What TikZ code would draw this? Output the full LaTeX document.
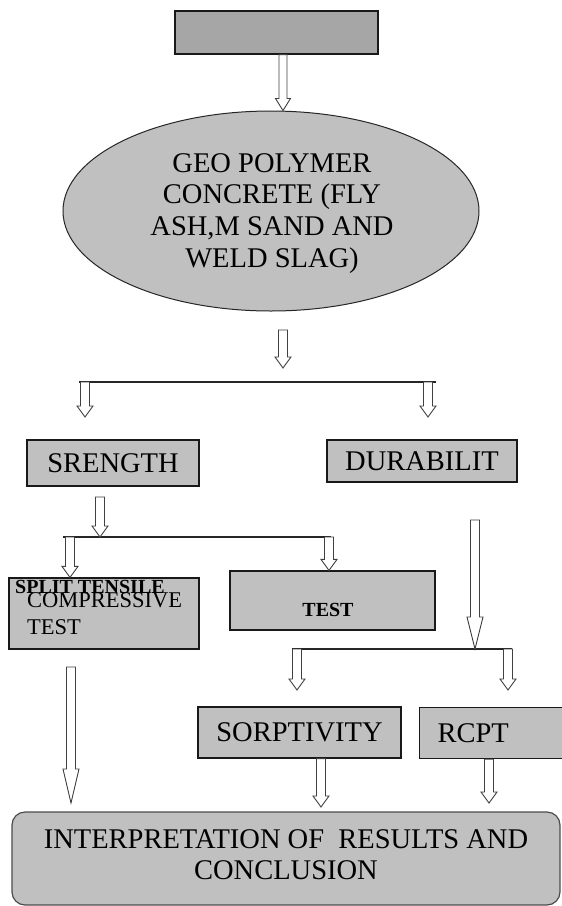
\documentclass[tikz,border=0pt]{standalone}
\usepackage{fontspec}
\setmainfont{Liberation Serif}
\usetikzlibrary{calc,shapes.geometric}
\definecolor{boxgray}{HTML}{C0C0C0}
\definecolor{topgray}{HTML}{A6A6A6}
\tikzset{
  boxnode/.style={draw=black!90, line width=1.2pt, fill=boxgray, rectangle, inner sep=0pt},
  big/.style={font=\fontsize{28.5}{31.7}\selectfont},
  txt/.style={inner sep=0pt, anchor=base},
  hollow/.style={draw=black!75, line width=0.9pt, fill=white, line join=miter},
  splitline/.style={draw=black!85, line width=1.1pt},
}
% vertical hollow block arrow: start, end, half shaft, half head, head length
\newcommand\varrow[5]{%
  \path[hollow] let \p1=(#1), \p2=(#2) in
    (\x1-#3,\y1) -- (\x1-#3,\y2+#5) -- (\x1-#4,\y2+#5) -- (\x1,\y2)
    -- (\x1+#4,\y2+#5) -- (\x1+#3,\y2+#5) -- (\x1+#3,\y1) -- cycle;}
\begin{document}
\begin{tikzpicture}[x=1pt,y=1pt]
\useasboundingbox (0,0) rectangle (562,-906);

% boxes
\node[boxnode, fill=topgray, minimum width=203, minimum height=43] (top) at (276.5,-32.5) {};
\node[draw=black!85, line width=1pt, fill=boxgray, ellipse, inner sep=0pt,
      minimum width=416, minimum height=200] (ell) at (271,-211) {};
\node[txt, big] (e1) at (272,-172) {GEO POLYMER};
\node[txt, big] (e2) at (272,-203.7) {CONCRETE (FLY};
\node[txt, big] (e3) at (272,-235.4) {ASH,M SAND AND};
\node[txt, big] (e4) at (272,-267.1) {WELD SLAG)};

\node[boxnode, big, minimum width=172, minimum height=46] (str) at (113,-463) {SRENGTH};
\node[boxnode, big, minimum width=190, minimum height=42] (dur) at (422,-461) {DURABILIT};

\node[boxnode, minimum width=190, minimum height=71] (comp) at (104,-613.5) {};
\node[txt, anchor=base west, font=\fontsize{20}{22}\bfseries] (split) at (15,-593) {SPLIT TENSILE};
\node[txt, anchor=base west, font=\fontsize{22.5}{25}\selectfont] (compt) at (27,-607) {COMPRESSIVE};
\node[txt, anchor=base west, font=\fontsize{22.5}{25}\selectfont] (compt2) at (27,-634) {TEST};

\node[boxnode, minimum width=205, minimum height=59] (test) at (332.5,-600.5) {};
\node[txt, font=\fontsize{20}{22}\bfseries] (testt) at (328,-616) {TEST};

\node[boxnode, big, minimum width=203, minimum height=51] (sorp) at (299.5,-732.5) {SORPTIVITY};
\node[boxnode, big, anchor=north west, minimum width=166, minimum height=51,
      text width=130, inner xsep=18, align=left] (rcpt) at (419,-707) {RCPT};

\node[boxnode, draw=black!70, rounded corners=13, minimum width=548, minimum height=93] (concl) at (286,-858.5) {};
\node[txt, big] (c1) at (286,-848) {INTERPRETATION OF~~RESULTS AND};
\node[txt, big] (c2) at (286,-879) {CONCLUSION};

% junction coordinates
\coordinate (a0) at (283,0);
\coordinate (j1t) at (283,-330);
\coordinate (j1b) at (283,-368);
\coordinate (l1a) at (79,-382);
\coordinate (l1b) at (436,-382);
\coordinate (l1l) at (85,-382);
\coordinate (l1r) at (428,-382);
\coordinate (l2a) at (63,-537);
\coordinate (l2b) at (331,-537);
\coordinate (l2s) at (100,-537);
\coordinate (l2l) at (70,-537);
\coordinate (l2r) at (329,-537);
\coordinate (l3a) at (292,-649);
\coordinate (l3b) at (512,-649);
\coordinate (l3s) at (475,-649);
\coordinate (l3l) at (297,-649);
\coordinate (l3r) at (508,-649);
\coordinate (dtop) at (475,-520);
\coordinate (ltop) at (71,-667);

% split lines
\draw[splitline] (l1a) -- (l1b);
\draw[splitline] (l2a) -- (l2b);
\draw[splitline] (l3a) -- (l3b);

% arrows
\varrow{a0 |- top.south}{a0 |- ell.north}{4pt}{7.5pt}{12pt}
\varrow{j1t}{j1b}{4.5pt}{8pt}{11pt}
\varrow{l1l}{l1l |- 0,-417}{4.5pt}{8pt}{11pt}
\varrow{l1r}{l1r |- 0,-417}{4.5pt}{8pt}{11pt}
\varrow{l2s |- 0,-497}{l2s}{4.5pt}{8pt}{11pt}
\varrow{l2l}{l2l |- comp.north}{4.5pt}{8pt}{11pt}
\varrow{l2r}{l2r |- test.north}{4.5pt}{8pt}{11pt}
\varrow{dtop}{l3s}{4.5pt}{8pt}{32pt}
\varrow{l3l}{l3l |- 0,-690}{4.5pt}{8pt}{11pt}
\varrow{l3r}{l3r |- 0,-690}{4.5pt}{8pt}{11pt}
\varrow{ltop}{ltop |- 0,-803}{4.5pt}{8pt}{34pt}
\varrow{sorp.south -| 321,0}{321,-807}{4.5pt}{8pt}{11pt}
\varrow{rcpt.south -| 489,0}{489,-803}{4.5pt}{8pt}{11pt}
\end{tikzpicture}
\end{document}
